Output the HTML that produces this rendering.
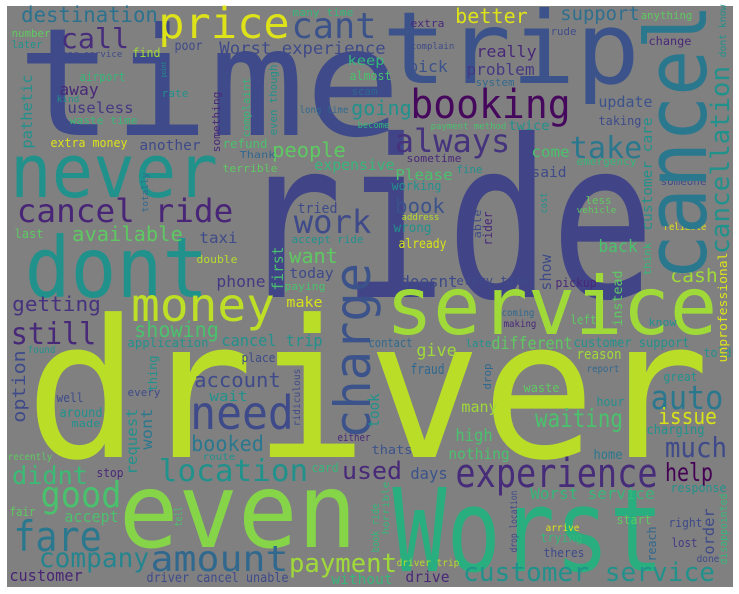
<!DOCTYPE html>
<html><head><meta charset="utf-8"><title>Word cloud</title>
<style>
html,body{margin:0;padding:0;background:#fff;}
svg{display:block;}
text{font-family:"DejaVu Sans Mono","Liberation Mono",monospace;}
</style></head>
<body>
<svg id="cloud" width="739" height="594" viewBox="0 0 739 594" xmlns="http://www.w3.org/2000/svg">
<rect x="7" y="6" width="726" height="581" fill="#808080"/>
<g id="words"></g>
</svg>
<script>
// horizontal words: [text, fontSize(weight), color, inkLeft, baseline, inkWidth]
const horizontalWords = [
["driver",192,"#bade28",33,457,669],["ride",220,"#414487",247,297,399],["time",150,"#3e4a89",23,135,372],
["trip",100,"#3b528b",386,83,250],["never",74,"#21918c",13,197,202],["dont",84,"#21918c",28,297,177],
["service",80,"#a0da39",389,334,325],["even",103,"#86d549",123,547,230],["Worst",115,"#29af7f",397,571,262],
["price",43,"#dde318",160,38,128],["cant",36,"#3b528b",293,38,82],["booking",40,"#46085c",412,118,157],
["always",32,"#46337e",396,152,113],["take",30,"#2a788e",571,158,70],["call",28,"#472d7b",62,48,66],
["money",46,"#bddf26",133,321,140],["need",46,"#3e4a89",192,429,100],["work",32,"#3e4a89",295,233,75],
["cancel ride",32,"#482576",18,222,214],["still",30,"#482878",12,344,83],["fare",42,"#2a788e",15,551,85],
["good",36,"#4ac16d",42,507,78],["amount",36,"#31688e",152,571,135],["payment",26,"#a0da39",290,572,106],
["company",27,"#25858e",40,567,108],["customer service",26,"#21918c",464,581,250],["experience",40,"#472c7a",457,487,199],
["location",30,"#21918c",160,481,147],["destination",21,"#2c728e",22,22,135],["Worst experience",17,"#3e4a89",220,54,165],
["better",20,"#dde318",456,23,71],["support",19,"#2e6e8e",561,20,78],["auto",33,"#2a788e",652,409,70],
["much",28,"#3e4a89",666,457,60],["waiting",25,"#4ac16d",536,427,86],["issue",22,"#d8e219",659,424,57],
["used",24,"#482878",343,479,58],["showing",21,"#4ac16d",135,337,83],["account",20,"#3e4a89",195,387,85],
["booked",21,"#2a788e",192,451,71],["didnt",25,"#3bbb75",13,484,74],["people",20,"#5ec962",273,157,72],
["available",20,"#5ec962",73,241,109],["going",20,"#21918c",352,115,59],["useless",15.5,"#443983",68,113,65],
["away",16,"#482878",60,95,38],["getting",20,"#46327e",13,311,87],["cash",19,"#a0da39",671,282,46],
["help",25,"#440154",666,481,46],["many",15,"#a0da39",462,412,35],["high",17,"#4ac16d",456,441,36],
["book",20,"#3b528b",396,213,48],["taxi",15,"#3e4a89",200,243,37],["phone",16,"#443983",217,287,48],
["want",20,"#5ec962",290,263,47],["today",14.5,"#3e4a89",290,278,43],["tried",14,"#3e4a89",298,213,39],
["expensive",15,"#35b779",315,170,79],["keep",13,"#35b779",348,65,36],["almost",12,"#4ac16d",350,80,41],
["scam",11,"#31688e",352,95,25],["long time",9.5,"#31688e",300,113,48],["become",8.5,"#35b779",358,128,31],
["many time",11,"#35b779",293,16,60],["number",10.5,"#5ec962",12,37,38],["later",10.5,"#21918c",12,48,30],
["poor service",9,"#3e4a89",57,57,65],["find",12,"#a0da39",133,57,27],["poor",13,"#3e4a89",175,50,27],
["airport",12,"#35b779",80,81,45],["kind",9,"#21918c",57,102,22],["waste time",11,"#35b779",70,124,67],
["extra money",12,"#dde318",51,147,76],["another",14,"#3e4a89",140,150,60],["rate",11,"#21918c",162,97,26],
["refund",12.5,"#4ac16d",223,148,44],["Thank",10,"#31688e",240,158,35],["terrible",11,"#5ec962",223,172,54],
["last",12,"#5ec962",15,238,28],["accept ride",10.5,"#21918c",292,243,71],["double",11,"#b5de2b",197,263,40],
["paying",11,"#4ac16d",285,290,40],["extra",11,"#482878",411,27,33],["rude",10.5,"#3e4a89",551,35,25],
["complain",9,"#3e4a89",411,49,43],["change",11.5,"#482878",649,45,42],["anything",10.5,"#5ec962",641,19,51],
["really",16,"#482878",477,57,59],["pick",16,"#3b528b",409,72,38],["problem",16,"#443983",467,75,67],
["system",10.5,"#31688e",476,86,38],["update",15,"#3b528b",599,107,53],["payment method",9,"#4ac16d",431,129,75],
["twice",13,"#21918c",509,130,40],["taking",12,"#3e4a89",599,125,42],["come",15.5,"#4ac16d",532,157,37],
["sometime",11,"#482878",407,162,54],["emergency",11,"#35b779",577,165,59],["Please",15.5,"#4ac16d",396,180,56],
["fine",11,"#21918c",457,173,25],["said",14,"#3e4a89",532,177,34],["working",12,"#21918c",392,190,49],
["someone",10.5,"#3e4a89",661,185,45],["less",11,"#5ec962",586,204,25],["vehicle",9,"#5ec962",577,213,39],
["address",9,"#b5de2b",402,220,37],["wrong",13,"#21918c",394,232,37],["reliable",9.5,"#dde318",664,230,42],
["already",13,"#d8e219",399,248,47],["back",17,"#4ac16d",599,252,38],["doesnt",16,"#3e4a89",401,287,56],
["every time",12,"#3e4a89",457,285,72],["pickup",12,"#482878",556,287,40],["thats",12,"#3b528b",372,454,40],
["days",16,"#3b528b",411,479,36],["hour",12,"#21918c",597,406,27],["charging",13,"#21918c",647,434,57],
["home",13,"#2a788e",594,459,28],["nothing",15,"#4ac16d",449,459,60],["waste",12,"#5ec962",524,392,35],
["great",12,"#21918c",664,381,33],["report",9.5,"#31688e",587,372,32],["fraud",14,"#31688e",411,374,33],
["reason",14,"#a0da39",577,359,44],["told",12.5,"#21918c",704,357,27],["give",17,"#a0da39",417,356,39],
["different",17,"#5ec962",492,349,80],["customer support",13,"#21918c",574,347,115],["late",11,"#21918c",466,347,25],
["contact",12,"#31688e",369,347,43],["coming",10,"#31688e",502,316,32],["making",10,"#482878",504,327,32],
["left",12,"#5ec962",571,324,25],["know",11,"#21918c",649,326,27],["response",12,"#21918c",671,492,55],
["Worst service",16,"#35b779",531,499,123],["right",12,"#3e4a89",669,527,33],["start",12.5,"#5ec962",617,524,34],
["arrive",10,"#dde318",546,531,33],["trying",12,"#35b779",541,542,41],["lost",12.5,"#443983",672,547,25],
["theres",12,"#3e4a89",544,557,40],["done",9.5,"#3e4a89",697,562,22],["driver trip",10,"#b5de2b",397,566,62],
["drive",15,"#482878",406,582,43],["without",14,"#35b779",332,584,60],["make",14,"#d8e219",287,307,35],
["application",12,"#21918c",128,347,80],["cancel trip",16,"#21918c",222,346,100],["found",10,"#21918c",28,353,27],
["place",12,"#3e4a89",242,362,33],["every",11,"#3e4a89",128,396,32],["well",12,"#3e4a89",57,402,26],
["wait",14,"#21918c",210,401,37],["around",13,"#21918c",60,417,42],["made",11,"#21918c",72,427,28],
["either",11,"#482878",338,441,32],["recently",10,"#5ec962",8,460,44],["route",10,"#21918c",203,460,32],
["stop",12,"#482878",97,477,26],["card",12,"#35b779",312,472,26],["accept",16,"#4ac16d",65,522,53],
["fair",12,"#5ec962",10,516,25],["customer",16,"#482475",10,581,72],["driver cancel unable",13,"#3e4a89",147,582,141]
];
// vertical words (read bottom-to-top): [text, fontSize(weight), color, baselineX, bottomY, length]
const verticalWords = [
["cancel",85,"#2a788e",706,277,270],["charge",50,"#3b528b",370,437,172],["cancellation",26,"#21918c",729,253,186],
["pathetic",15,"#21918c",32,148,73],["point",7,"#21918c",166,77,15],["something",11,"#482878",220,152,60],
["complaint",10.5,"#35b779",250,137,59],["even though",10.5,"#21918c",277,135,70],["totally",9,"#31688e",148,212,39],
["first",15,"#4ac16d",283,290,43],["dont know",9.5,"#21918c",726,57,52],["customer care",14,"#21918c",652,230,112],
["cost",10,"#21918c",547,213,20],["able",11,"#3e4a89",481,238,28],["rider",12,"#482878",492,245,33],
["think",11,"#35b779",651,275,32],["show",15,"#3e4a89",551,290,35],["unprofessional",12,"#dde318",727,362,109],
["instead",13,"#5ec962",622,326,55],["took",15,"#21918c",379,427,33],["drop",11,"#31688e",491,389,25],
["disappointed",11,"#35b779",727,564,70],["order",15,"#3e4a89",714,554,45],["reach",12,"#31688e",656,561,34],
["drop location",10,"#3e4a89",517,552,61],["horrible",10,"#35b779",389,534,52],["book ride",11,"#35b779",379,552,48],
["option",18,"#3e4a89",25,422,71],["thing",12,"#21918c",157,391,35],["ridiculous",10,"#3e4a89",300,426,57],
["request",15,"#21918c",137,474,65],["wont",15,"#2a788e",152,449,40],["tell",11,"#4ac16d",182,526,19]
];

const NS = "http://www.w3.org/2000/svg";
const layer = document.getElementById("words");
function slug(s){ return s.toLowerCase().replace(/[^a-z0-9]+/g,"-"); }

horizontalWords.forEach(function(r){
  const t = document.createElementNS(NS,"text");
  const fs = r[1];
  t.setAttribute("x", r[3] - 0.04*fs);
  t.setAttribute("y", r[4]);
  t.setAttribute("font-size", fs);
  t.setAttribute("fill", r[2]);
  t.setAttribute("textLength", r[5] + 0.08*fs);
  t.setAttribute("lengthAdjust", "spacingAndGlyphs");
  t.textContent = r[0];
  
  
  layer.appendChild(t);
});

verticalWords.forEach(function(r){
  const t = document.createElementNS(NS,"text");
  const fs = r[1];
  t.setAttribute("x", -0.04*fs);
  t.setAttribute("y", 0);
  t.setAttribute("transform", "translate(" + r[3] + "," + r[4] + ") rotate(-90)");
  t.setAttribute("font-size", fs);
  t.setAttribute("fill", r[2]);
  t.setAttribute("textLength", r[5] + 0.08*fs);
  t.setAttribute("lengthAdjust", "spacingAndGlyphs");
  t.textContent = r[0];
  
  
  layer.appendChild(t);
});
</script>
</body></html>
